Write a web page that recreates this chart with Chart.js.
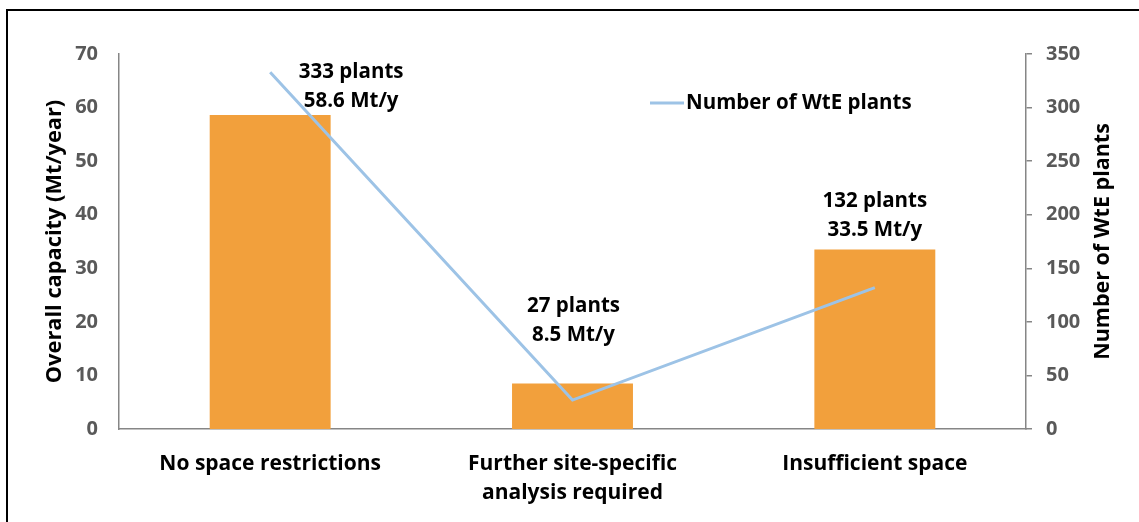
<!DOCTYPE html>
<html>
<head>
<meta charset="utf-8">
<title>WtE plant capacity</title>
<script src="https://cdn.jsdelivr.net/npm/chart.js@4.4.0/dist/chart.umd.min.js"></script>
<style>
  html, body { margin: 0; padding: 0; background: #fff; overflow: hidden; }
  #wrap { position: relative; width: 1139px; height: 522px; }
  #frame {
    position: absolute; left: 6px; top: 9px;
    width: 1150px; height: 530px;
    border: 2px solid #000; box-sizing: border-box;
    pointer-events: none;
  }
  #chart { position: absolute; left: 0; top: 0; }
</style>
</head>
<body>
<div id="wrap">
  <canvas id="chart" width="1139" height="522"></canvas>
  <div id="frame"></div>
</div>
<script>
// categories and series
const categories = [
  ['No space restrictions'],
  ['Further site-specific', 'analysis required'],
  ['Insufficient space']
];
const capacity = [58.6, 8.5, 33.5];   // Mt/year, left axis
const plants = [333, 27, 132];        // number of plants, right axis

const capacityAxis = { min: 0, max: 70, step: 10 };
const plantsAxis = { min: 0, max: 350, step: 50 };

// where each two-line value label sits, relative to the top of its bar
const labelShift = [[81, -14], [1, -48], [0, -19]];

const FONT = '"Open Sans", sans-serif';
const ORANGE = '#F2A03C';
const BLUE = '#9DC3E6';
const AXIS_GREY = '#868686';
const TICK_GREY = '#595959';

// "333 plants / 58.6 Mt/y" labels above the bars
const valueLabels = {
  id: 'valueLabels',
  afterDatasetsDraw(chart) {
    const ctx = chart.ctx;
    const bars = chart.getDatasetMeta(0).data;
    ctx.save();
    ctx.font = 'bold 20.5px ' + FONT;
    ctx.fillStyle = '#000';
    ctx.textAlign = 'center';
    ctx.textBaseline = 'middle';
    bars.forEach((bar, i) => {
      const x = bar.x + labelShift[i][0];
      const y = bar.y + labelShift[i][1];
      ctx.fillText(plants[i] + ' plants', x, y - 29);
      ctx.fillText(capacity[i] + ' Mt/y', x, y);
    });
    ctx.restore();
  }
};

// line legend inside the plot and the bottom-to-top title of the right axis
const extras = {
  id: 'extras',
  afterDraw(chart) {
    const ctx = chart.ctx;
    const area = chart.chartArea;
    ctx.save();

    ctx.strokeStyle = BLUE;
    ctx.lineWidth = 3;
    ctx.beginPath();
    ctx.moveTo(650, 103);
    ctx.lineTo(684, 103);
    ctx.stroke();
    ctx.font = 'bold 20.5px ' + FONT;
    ctx.fillStyle = '#000';
    ctx.textAlign = 'left';
    ctx.textBaseline = 'middle';
    ctx.fillText(chart.data.datasets[1].label, 686, 103);

    ctx.font = 'bold 21.5px ' + FONT;
    ctx.translate(1103, (area.top + area.bottom) / 2);
    ctx.rotate(-Math.PI / 2);
    ctx.textAlign = 'center';
    ctx.fillText('Number of WtE plants', 0, 0);
    ctx.restore();
  }
};

new Chart(document.getElementById('chart'), {
  data: {
    labels: categories,
    datasets: [{
      type: 'bar',
      label: 'Overall capacity',
      data: capacity,
      backgroundColor: ORANGE,
      categoryPercentage: 1,
      barPercentage: 0.4,
      yAxisID: 'y',
      order: 2
    }, {
      type: 'line',
      label: 'Number of WtE plants',
      data: plants,
      borderColor: BLUE,
      borderWidth: 3,
      pointRadius: 0,
      tension: 0,
      yAxisID: 'y1',
      order: 1
    }]
  },
  plugins: [valueLabels, extras],
  options: {
    responsive: false,
    animation: false,
    layout: { padding: { top: 54, left: 0, right: 0, bottom: 0 } },
    plugins: {
      legend: { display: false },
      tooltip: { enabled: false }
    },
    scales: {
      x: {
        grid: { display: false, drawTicks: false },
        border: { color: AXIS_GREY, width: 1.5 },
        ticks: {
          color: '#000',
          padding: 21,
          maxRotation: 0,
          font: { family: FONT, size: 21, weight: 'bold', lineHeight: 1.38 }
        },
        afterFit(scale) { scale.height = 93; }
      },
      y: {
        position: 'left',
        min: capacityAxis.min,
        max: capacityAxis.max,
        grid: { display: false, drawTicks: false },
        border: { color: AXIS_GREY, width: 1.5 },
        ticks: {
          stepSize: capacityAxis.step,
          color: TICK_GREY,
          padding: 21,
          font: { family: FONT, size: 20, weight: 'bold' }
        },
        title: {
          display: true,
          text: 'Overall capacity (Mt/year)',
          color: '#000',
          padding: { top: 42, bottom: 0 },
          font: { family: FONT, size: 21.8, weight: 'bold' }
        },
        afterFit(scale) { scale.width = 119; }
      },
      y1: {
        position: 'right',
        min: plantsAxis.min,
        max: plantsAxis.max,
        grid: {
          drawOnChartArea: false,
          drawTicks: true,
          tickLength: 6,
          color: AXIS_GREY,
          lineWidth: 1.5
        },
        border: { color: AXIS_GREY, width: 1.5 },
        ticks: {
          stepSize: plantsAxis.step,
          color: TICK_GREY,
          padding: 14,
          font: { family: FONT, size: 20, weight: 'bold' }
        },
        afterFit(scale) { scale.width = 113; }
      }
    }
  }
});
</script>
</body>
</html>
